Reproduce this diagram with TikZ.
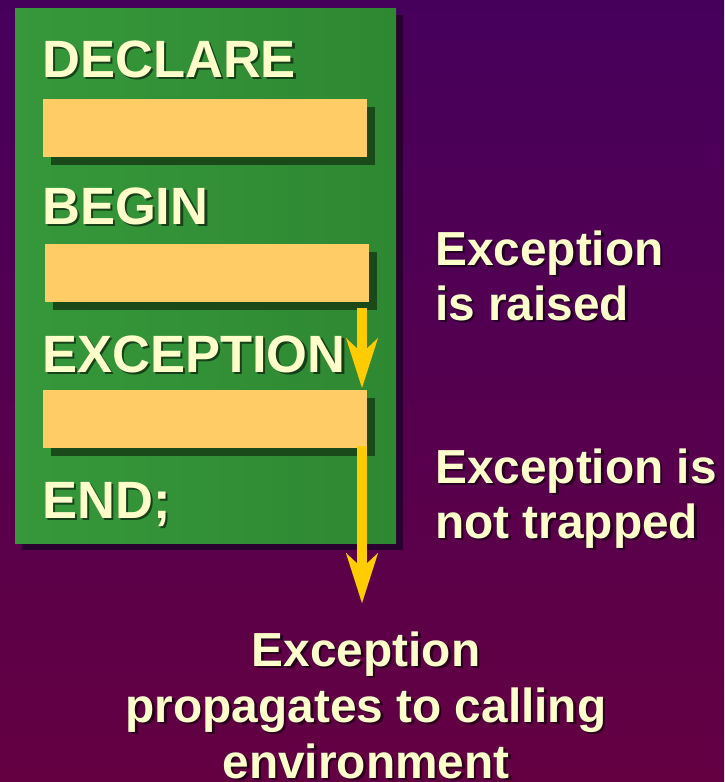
\documentclass[tikz,border=0pt]{standalone}
\usepackage{fontspec}
\setmainfont{Liberation Sans}
\usetikzlibrary{arrows.meta,shadows}
\definecolor{bgtop}{HTML}{46005C}
\definecolor{bgbot}{HTML}{640042}
\definecolor{greenL}{HTML}{36983A}
\definecolor{greenR}{HTML}{2E8832}
\definecolor{barorange}{HTML}{FFCC66}
\definecolor{txt}{HTML}{FFFFCC}
\definecolor{arrowyellow}{HTML}{FFCC00}
\definecolor{boxshadow}{HTML}{2A0030}
\definecolor{barshadow}{HTML}{1A4A1A}
\begin{document}
\begin{tikzpicture}[x=1pt,y=-1pt,
  kw/.style={font=\fontsize{52.5}{60}\selectfont\bfseries, text=txt, anchor=base west, inner sep=0pt},
  kwsh/.style={kw, text=black, opacity=0.55},
  note/.style={font=\fontsize{47.8}{56}\selectfont\bfseries, text=txt, anchor=base west, inner sep=0pt},
  notesh/.style={note, text=black, opacity=0.55},
  cnote/.style={note, anchor=base},
  cnotesh/.style={cnote, text=black, opacity=0.55},
  blockbox/.style={draw=none, left color=greenL, right color=greenR, minimum width=381pt, minimum height=535pt, inner sep=0pt,
    general shadow={fill=boxshadow, shadow xshift=7pt, shadow yshift=-7pt}},
  codebar/.style={draw=none, fill=barorange, minimum width=324pt, minimum height=58pt, inner sep=0pt,
    general shadow={fill=barshadow, shadow xshift=8pt, shadow yshift=-8pt}},
  flow/.style={draw=arrowyellow, line width=10pt, -{Stealth[length=50pt,width=32pt,inset=15pt,line width=0.01pt]}},
  flowsh/.style={draw=black, opacity=0.45, line width=10pt, -{Stealth[length=50pt,width=32pt,inset=15pt,line width=0.01pt]}}
]
\useasboundingbox (0,0) rectangle (724,782);
\shade[top color=bgtop, bottom color=bgbot] (0,0) rectangle (724,782);

% block
\node[blockbox] (block) at (205.5,275.5) {};
\node[codebar] (bar1) at (205,128) {};
\node[codebar] (bar2) at (207,273) {};
\node[codebar] (bar3) at (205,418.5) {};

% keywords
\node[kwsh] at (44.5,79.5) {DECLARE};
\node[kw] (kdeclare) at (42,77) {DECLARE};
\node[kwsh] at (44.5,226.5) {BEGIN};
\node[kw] (kbegin) at (42,224) {BEGIN};
\node[kwsh] at (44.5,374.5) {EXCEPTION};
\node[kw] (kexception) at (42,372) {EXCEPTION};
\node[kwsh] at (44.5,520.5) {END;};
\node[kw] (kend) at (42,518) {END;};

% arrows
\coordinate (a1s) at (362,308);
\coordinate (a1e) at (362,388);
\coordinate (a2s) at (362,446);
\coordinate (a2e) at (362,603);
\begin{scope}[shift={(4,4)}]
\draw[flowsh] (a1s) -- (a1e);
\draw[flowsh] (a2s) -- (a2e);
\end{scope}
\draw[flow] (a1s) -- (a1e);
\draw[flow] (a2s) -- (a2e);

% right notes
\node[notesh] at (437.5,267.5) {Exception};
\node[note] (n1a) at (435,265) {Exception};
\node[notesh] at (437.5,322.5) {is raised};
\node[note] (n1b) at (435,320) {is raised};
\node[notesh] at (437.5,485.5) {Exception is};
\node[note] (n2a) at (435,483) {Exception is};
\node[notesh] at (437.5,540.5) {not trapped};
\node[note] (n2b) at (435,538) {not trapped};

% bottom note
\node[cnotesh] at (368.5,668.5) {Exception};
\node[cnote] (n3a) at (366,666) {Exception};
\node[cnotesh] at (368.5,724.5) {propagates to calling};
\node[cnote] (n3b) at (366,722) {propagates to calling};
\node[cnotesh] at (368.5,780.5) {environment};
\node[cnote] (n3c) at (366,778) {environment};
\end{tikzpicture}
\end{document}
